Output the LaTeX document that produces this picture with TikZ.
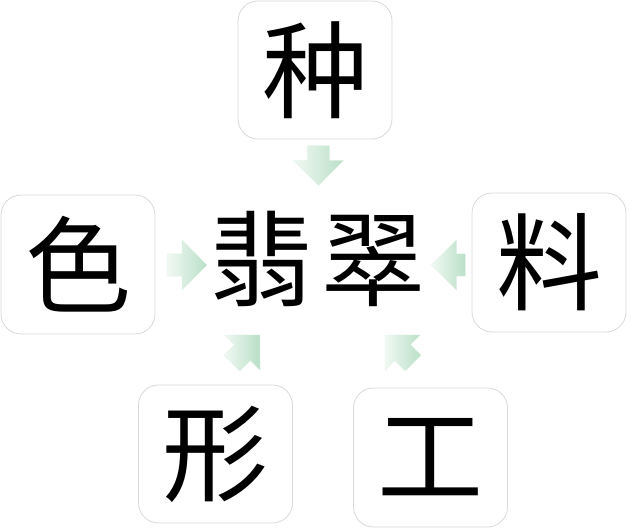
\documentclass[tikz,border=0pt]{standalone}
\usepackage{fontspec}
\newfontfamily\cjk{Noto Sans CJK SC}
\usetikzlibrary{shapes.arrows}
\definecolor{boxline}{HTML}{D9D9D9}
\definecolor{arrpale}{HTML}{F1F9F3}
\definecolor{arrdeep}{HTML}{B9DFC6}
\tikzset{
  charbox/.style={draw=boxline, line width=0.8pt, fill=white, rounded corners=20pt,
    minimum width=154pt, minimum height=138pt, inner sep=0pt,
    font=\cjk\fontsize{106}{106}\selectfont},
  blockarrow/.style={single arrow, minimum height=40pt,
    single arrow head extend=14pt, single arrow head indent=0pt,
    inner xsep=0pt, inner ysep=11pt,
    draw=arrdeep!40, line width=0.3pt,
    left color=arrpale, right color=arrdeep},
}
\begin{document}
\begin{tikzpicture}[x=1pt,y=1pt]
\useasboundingbox (0,0) rectangle (640,528);
\node[charbox] (top) at (315,458) {种};
\node[charbox, minimum height=139pt] (left) at (78,263.5) {色};
\node[charbox, minimum height=139pt] (right) at (549,265.5) {料};
\node[charbox] (bl) at (215.5,74) {形};
\node[charbox, minimum height=139pt] (br) at (430.5,70.5) {工};
\node[inner sep=0pt, font=\cjk\fontsize{104}{104}\selectfont] (c) at (317.5,269.5) {翡\hspace{8pt}翠};
\node[blockarrow, rotate=-90] (a1) at (318.5,368) {};
\node[blockarrow] (a2) at (181.5,263) {};
\node[blockarrow, minimum height=34pt, rotate=180] (a3) at (454,263) {};
\node[blockarrow, rotate=45] (a4) at (242,175) {};
\node[blockarrow, rotate=135] (a5) at (403,175) {};
\end{tikzpicture}
\end{document}
